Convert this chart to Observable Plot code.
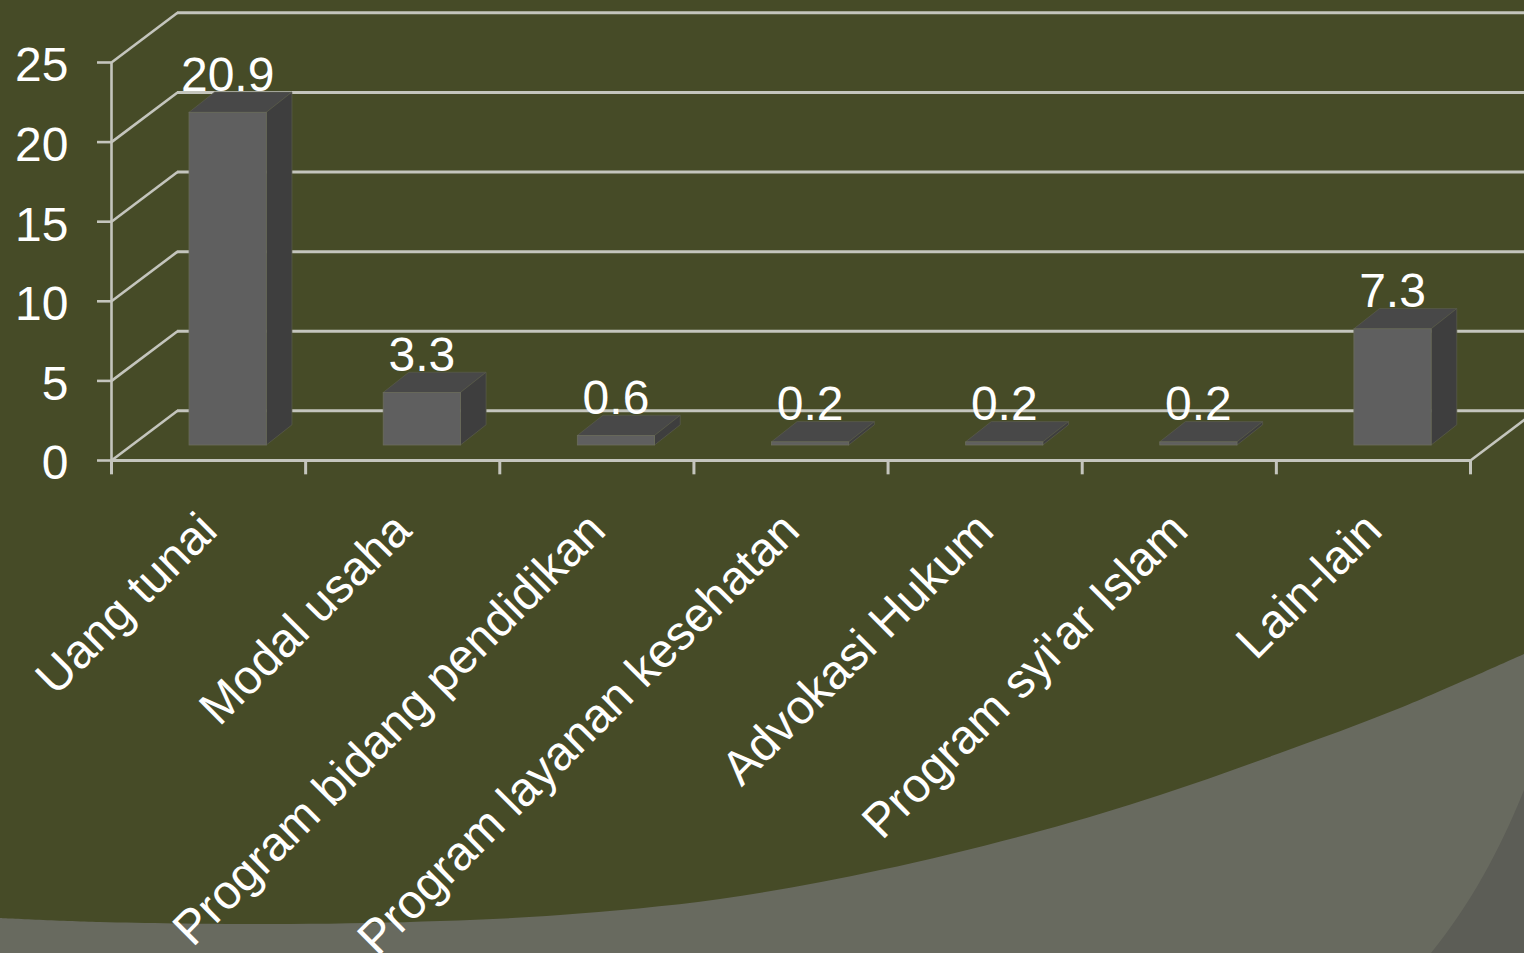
<!DOCTYPE html>
<html>
<head>
<meta charset="utf-8">
<script src="https://cdn.jsdelivr.net/npm/d3@7"></script>
<script src="https://cdn.jsdelivr.net/npm/@observablehq/plot@0.6"></script>
<style>
html,body{margin:0;padding:0;width:1524px;height:953px;overflow:hidden;background:#464b27}
.swoosh,.swoosh2{position:absolute;left:0;top:0;width:1524px;height:953px}
.swoosh{background:#686a5f}
.swoosh2{background:#5c5d56;clip-path:path("M1431 953 C1470 905 1500 850 1524 790 L1524 953 Z")}
#chart{position:absolute;left:0;top:0}
#chart svg{display:block;background:transparent}
</style>
</head>
<body>
<div class="swoosh" id="swoosh"></div>
<div class="swoosh2"></div>
<div id="chart"></div>
<script>
const categories = ["Uang tunai","Modal usaha","Program bidang pendidikan","Program layanan kesehatan","Advokasi Hukum","Program syi'ar Islam","Lain-lain"];
const values = [20.9,3.3,0.6,0.2,0.2,0.2,7.3];
const yTicks = [0,5,10,15,20,25];
const xBoundaries = [0,1,2,3,4,5,6,7];

// page decoration behind the chart
const edge = d3.line().curve(d3.curveCatmullRom)([[0,918],[100,922],[290,924],[440,921],[560,915],[720,899],[880,870],[1040,831],[1160,795],[1280,753],[1400,708],[1524,654]]);
document.getElementById("swoosh").style.clipPath = `path("${edge}L1524,953L0,953Z")`;

// perspective depth in scale units
const wallX = 0.34, wallY = 3.12;
const barStart = 0.402, barEnd = 0.8, barDepthX = 0.132, barDepthY = 1.27;

const bars = categories.map((name,i)=>({name,value:values[i],x1:i+barStart,x2:i+barEnd,mid:i+(barStart+barEnd)/2}));
const sideFaces = bars.flatMap(b=>[
  {name:b.name,x:b.x2,y1:0,y2:b.value},
  {name:b.name,x:b.x2+barDepthX,y1:barDepthY,y2:b.value+barDepthY}
]);
const topFaces = bars.flatMap(b=>[
  {name:b.name,y:b.value,x1:b.x1,x2:b.x2},
  {name:b.name,y:b.value+barDepthY,x1:b.x1+barDepthX,x2:b.x2+barDepthX}
]);
const grey = "#c4c5bd";
const lift = -15;

const plot = Plot.plot({
  width:1524,height:953,
  marginLeft:111,marginRight:54,marginTop:62,marginBottom:493,
  style:{background:"transparent",fontFamily:"'Liberation Sans',Arial,sans-serif"},
  x:{type:"linear",domain:[0,7],axis:null},
  y:{type:"linear",domain:[0,25],axis:null},
  marks:[
    // back wall grid and its diagonals
    Plot.ruleY(yTicks,{y:d=>d+wallY,x1:wallX,x2:7.4,stroke:grey,strokeWidth:3}),
    Plot.link(yTicks,{x1:0,y1:d=>d,x2:wallX,y2:d=>d+wallY,stroke:grey,strokeWidth:2.6}),
    Plot.link([7],{x1:d=>d,y1:0,x2:d=>d+wallX,y2:wallY,stroke:grey,strokeWidth:2.6}),
    // y axis
    Plot.ruleX([0],{y1:0,y2:25,stroke:grey,strokeWidth:2.6}),
    Plot.ruleY(yTicks,{x1:-0.072,x2:0,stroke:grey,strokeWidth:2.6}),
    // floor line and x ticks
    Plot.ruleY([0],{x1:0,x2:7,stroke:grey,strokeWidth:2.8}),
    Plot.ruleX(xBoundaries,{y1:0,y2:-0.9,stroke:grey,strokeWidth:3}),
    // bars
    Plot.areaX(topFaces,{y:"y",x1:"x1",x2:"x2",z:"name",fill:"#484848",stroke:"#5a5c4c",strokeWidth:0.7,dy:lift}),
    Plot.areaY(sideFaces,{x:"x",y1:"y1",y2:"y2",z:"name",fill:"#3e3e3e",stroke:"#5a5c4c",strokeWidth:0.7,dy:lift}),
    Plot.rectY(bars,{x1:"x1",x2:"x2",y:"value",fill:"#5f5f5f",stroke:"#6b6d5c",strokeWidth:0.8,dy:lift}),
    // value labels
    Plot.text(bars,{x:"mid",y:"value",text:d=>String(d.value),fill:"#fff",fontSize:48,lineAnchor:"bottom",dy:lift-22,dx:-0.5}),
    // y tick labels
    Plot.text(yTicks,{x:0,y:d=>d,text:d=>String(d),fill:"#fff",fontSize:48,textAnchor:"end",dx:-43,dy:3.5}),
    // category labels
    Plot.text(bars,{x:d=>d.mid,y:0,text:"name",fill:"#fff",fontSize:48,textAnchor:"end",lineAnchor:"middle",rotate:-45,dx:-19.5,dy:61.5})
  ]
});
document.getElementById("chart").appendChild(plot);
</script>
</body>
</html>
